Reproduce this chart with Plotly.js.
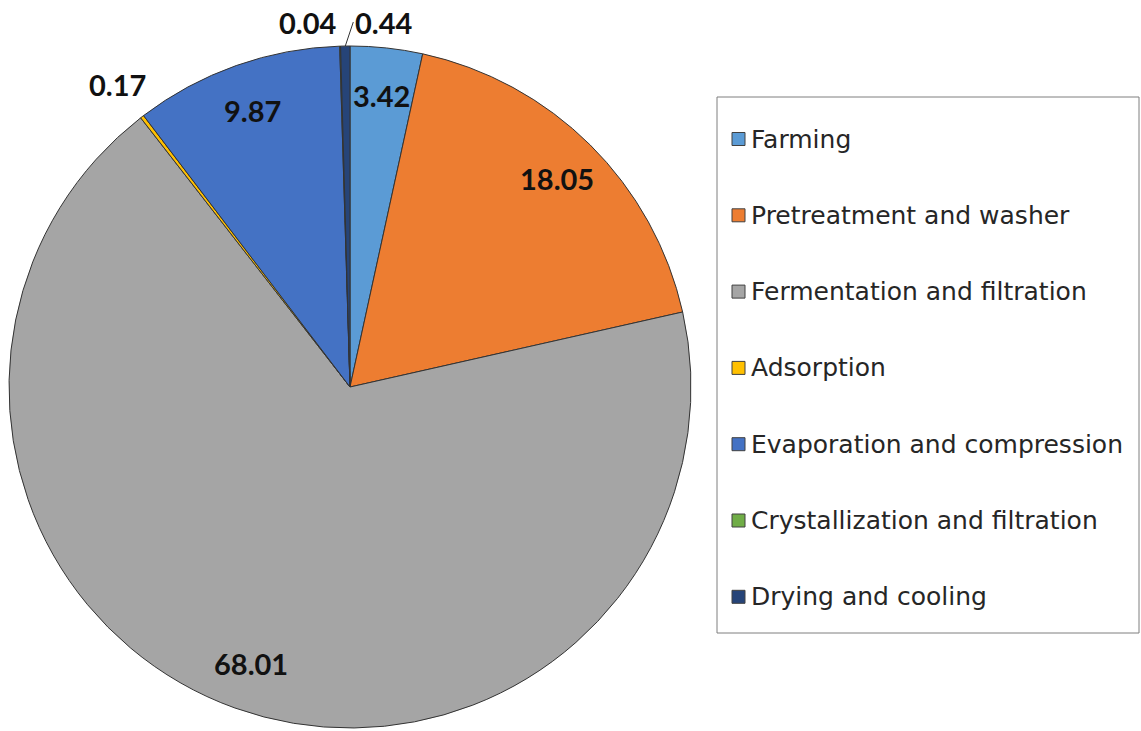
<!DOCTYPE html>
<html>
<head>
<meta charset="utf-8">
<script src="https://cdn.plot.ly/plotly-3.0.1.min.js"></script>
<style>html,body{margin:0;padding:0;background:#fff;}#chart{width:1141px;height:731px;}</style>
</head>
<body>
<div id="chart"></div>
<script>
const categories = ["Farming", "Pretreatment and washer", "Fermentation and filtration", "Adsorption", "Evaporation and compression", "Crystallization and filtration", "Drying and cooling"];
const values = [3.42, 18.05, 68.01, 0.17, 9.87, 0.04, 0.44];
const colors = ["#5B9BD5", "#ED7D31", "#A5A5A5", "#FFC000", "#4472C4", "#70AD47", "#264478"];

const W = 1141, H = 731;
const px = x => x / W;
const py = y => 1 - y / H;
const labelFont = {family: "Lato, 'Open Sans', sans-serif", size: 29, color: "#111111", weight: "bold"};
const legendFont = {family: "'DejaVu Sans', sans-serif", size: 25, color: "#262626"};

const trace = {
  type: "pie",
  labels: categories,
  values: values,
  sort: false,
  direction: "clockwise",
  rotation: 0,
  marker: {colors: colors, line: {color: "#333333", width: 1}},
  textinfo: "none",
  showlegend: false,
  hoverinfo: "label+value",
  domain: {x: [px(9), px(691)], y: [py(728), py(46)]}
};

// custom legend built from the category/colour arrays
const shapes = [{
  type: "rect", xref: "paper", yref: "paper",
  x0: px(717), x1: px(1139), y0: py(633), y1: py(97),
  line: {color: "#7f7f7f", width: 1}, fillcolor: "rgba(0,0,0,0)"
}];
const annotations = [];
const top0 = 139, step = 76.3;
categories.forEach((c, i) => {
  const yc = top0 + i * step;
  shapes.push({
    type: "rect", xref: "paper", yref: "paper",
    x0: px(732), x1: px(745), y0: py(yc + 6.5), y1: py(yc - 6.5),
    fillcolor: colors[i], line: {color: "#404040", width: 1}
  });
  annotations.push({
    xref: "paper", yref: "paper", x: px(749), y: py(yc),
    xanchor: "left", yanchor: "middle", showarrow: false,
    text: c, font: legendFont
  });
});

const layout = {
  width: W, height: H,
  margin: {l: 0, r: 0, t: 0, b: 0},
  paper_bgcolor: "#ffffff",
  showlegend: false,
  shapes: shapes,
  annotations: annotations
};

const gd = document.getElementById("chart");
Plotly.newPlot(gd, [trace], layout, {displayModeBar: false, staticPlot: true}).then(() => {
  // data labels placed from the pie geometry computed by Plotly
  const cd = gd.calcdata[0];
  const cd0 = cd[0];
  const fl = gd._fullLayout, gs = fl._size;
  const toX = p => (p - gs.l) / gs.w;
  const toY = p => 1 - (p - gs.t) / gs.h;
  const total = values.reduce((a, b) => a + b, 0);
  const extra = [];
  cd.forEach((pt, i) => {
    const mx = pt.pxmid[0], my = pt.pxmid[1];
    const txt = values[i].toFixed(2);
    const frac = values[i] / total;
    if (frac > 0.02) {
      extra.push({xref: "paper", yref: "paper", showarrow: false,
        x: toX(cd0.cx + 0.86 * mx), y: toY(cd0.cy + 0.86 * my),
        xanchor: "center", yanchor: "middle", text: txt, font: labelFont});
    } else if (i === cd.length - 1) {
      // last tiny slice: label to the right with a short leader line
      extra.push({xref: "paper", yref: "paper", showarrow: true,
        x: toX(cd0.cx + mx), y: toY(cd0.cy + my),
        ax: 8, ay: -24, arrowhead: 0, arrowwidth: 1, arrowcolor: "#333333",
        xanchor: "left", yanchor: "middle", text: txt, font: labelFont});
    } else if (i === cd.length - 2) {
      extra.push({xref: "paper", yref: "paper", showarrow: false,
        x: toX(cd0.cx + 1.07 * mx), y: toY(cd0.cy + 1.07 * my),
        xanchor: "right", yanchor: "middle", text: txt, font: labelFont});
    } else {
      extra.push({xref: "paper", yref: "paper", showarrow: false,
        x: toX(cd0.cx + 1.12 * mx), y: toY(cd0.cy + 1.12 * my),
        xanchor: "center", yanchor: "middle", text: txt, font: labelFont});
    }
  });
  return Plotly.relayout(gd, {annotations: annotations.concat(extra)});
});
</script>
</body>
</html>
